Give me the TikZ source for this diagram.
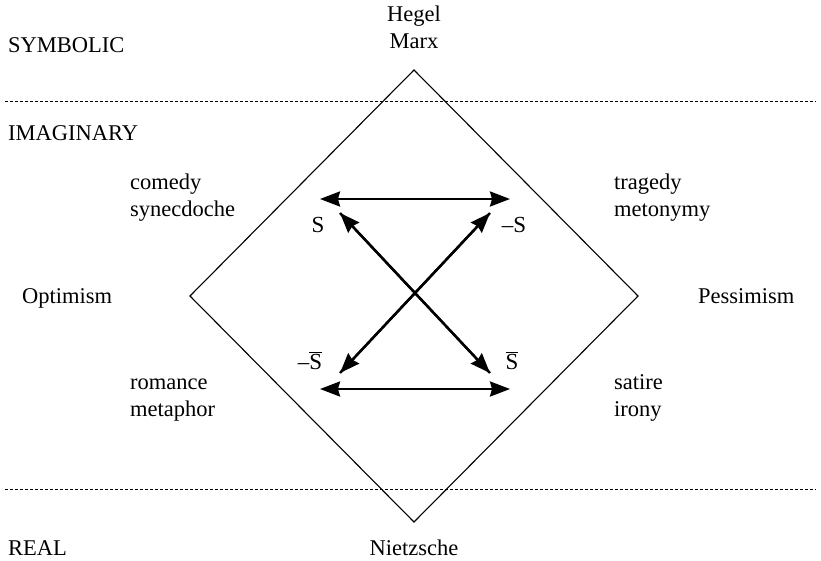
\documentclass[tikz,border=0pt]{standalone}
\usepackage{fontspec}
\setmainfont{Liberation Serif}
\usetikzlibrary{arrows.meta}
\begin{document}
\begin{tikzpicture}[x=1pt,y=-1pt,
  lbl/.style={font=\fontsize{22.5}{27}\selectfont, inner sep=0pt},
  lblw/.style={lbl, anchor=base west, align=left},
  lblc/.style={lbl, anchor=base, align=center},
  sym/.style={font=\fontsize{23}{27}\selectfont, inner sep=0pt, anchor=base},
  level/.style={line width=0.8pt, dash pattern=on 3pt off 2pt},
  frame/.style={line width=1.1pt, line join=miter},
  tip/.tip={Stealth[length=20pt,width=15pt,inset=2pt]},
  dbl/.style={line width=2.4pt, tip-tip},
  sgl/.style={line width=2.4pt, -tip}]
\useasboundingbox (0,0) rectangle (821,560);

% level separators
\coordinate (la) at (5,101);  \coordinate (lb) at (816,101);
\coordinate (lc) at (5,489);  \coordinate (ld) at (816,489);
\draw[level] (la) -- (lb);
\draw[level] (lc) -- (ld);

% diamond
\coordinate (dt) at (414,70);
\coordinate (dr) at (638,296);
\coordinate (db) at (414,522);
\coordinate (dl) at (190,296);
\draw[frame] (dt) -- (dr) -- (db) -- (dl) -- cycle;

% arrow end points
\coordinate (htl) at (320,199); \coordinate (htr) at (510,199);
\coordinate (hbl) at (320,389); \coordinate (hbr) at (510,389);
\coordinate (ul) at (340,213);  \coordinate (ur) at (490,213);
\coordinate (dnl) at (340,373); \coordinate (dnr) at (490,373);

\draw[dbl] (htl) -- (htr);
\draw[dbl] (hbl) -- (hbr);
\draw[sgl] (dnr) -- (ul);
\draw[sgl] (ur) -- (dnl);
\draw[sgl] (dnl) -- (ur);
\draw[sgl] (ul) -- (dnr);

% square labels
\node[sym] (s)   at (318,232) {S};
\node[sym] (ns)  at (514,232) {–S};
\node[sym] (nsb) at (310,369) {–$\overline{\mbox{S}}$};
\node[sym] (sb)  at (512,369) {$\overline{\mbox{S}}$};

% registers
\node[lblw] (symb) at (8,52)   {SYMBOLIC};
\node[lblw] (imag) at (8,140)  {IMAGINARY};
\node[lblw] (real) at (8,555)  {REAL};

% poles
\node[lblc] (hm) at (414,48) {Hegel\\Marx};
\node[lblc] (nz) at (414,555) {Nietzsche};
\node[lblw] (opt) at (22,303) {Optimism};
\node[lblw] (pes) at (698,303) {Pessimism};

% modes
\node[lblw] (com) at (130,216) {comedy\\synecdoche};
\node[lblw] (tra) at (614,216) {tragedy\\metonymy};
\node[lblw] (rom) at (130,416) {romance\\metaphor};
\node[lblw] (sat) at (614,416) {satire\\irony};
\end{tikzpicture}
\end{document}
